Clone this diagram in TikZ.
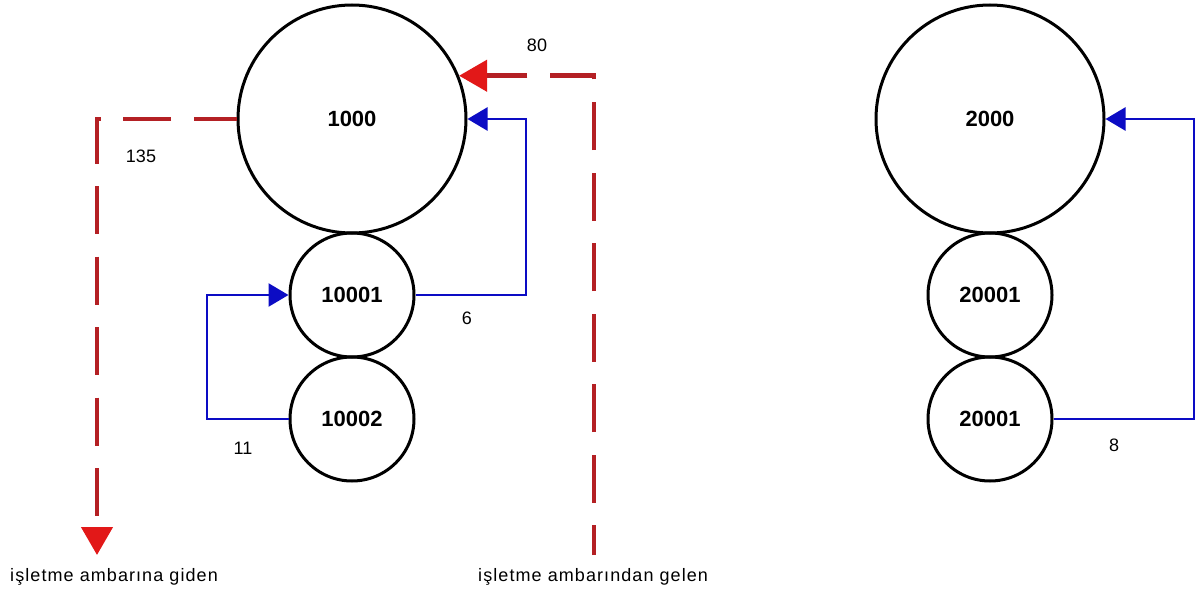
\documentclass[tikz,border=0pt]{standalone}
\usepackage{fontspec}
\setmainfont{Liberation Sans}
\usetikzlibrary{arrows.meta}

\definecolor{flowblue}{RGB}{12,12,196}
\definecolor{dashred}{RGB}{180,32,36}
\definecolor{tipred}{RGB}{226,24,24}

\tikzset{
  bigstore/.style={circle, draw=black, line width=3pt, minimum size=228pt, inner sep=0pt,
                   font=\fontsize{22}{22}\selectfont\bfseries},
  substore/.style={circle, draw=black, line width=3pt, minimum size=124pt, inner sep=0pt,
                   font=\fontsize{22}{22}\selectfont\bfseries},
  transfer/.style={draw=flowblue, line width=2.5pt,
                   -{Triangle[length=20pt, width=23pt, color=flowblue]}},
  outside/.style={draw=dashred, line width=4.5pt, dash pattern=on 48pt off 22.5pt,
                  -{Triangle[length=28pt, width=31pt, color=tipred]}},
  qty/.style={font=\fontsize{18}{18}\selectfont, inner sep=0pt},
  caption/.style={font=\fontsize{18}{18}\selectfont\addfontfeatures{LetterSpace=6}, inner sep=0pt, anchor=base west}
}

\begin{document}
\begin{tikzpicture}[x=1pt, y=-1pt]
  \useasboundingbox[fill=white] (0,0) rectangle (1200,594);

  % main store 1000 with its sub-stores
  \node[bigstore] (m1) at (352,119) {1000};
  \node[substore] (m1a) at (352,295) {10001};
  \node[substore] (m1b) at (352,419) {10002};

  % main store 2000 with its sub-stores
  \node[bigstore] (m2) at (990,119) {2000};
  \node[substore] (m2a) at (990,295) {20001};
  \node[substore] (m2b) at (990,419) {20001};

  % corner and end points of the connectors
  \coordinate (outEnd) at (97,555);
  \coordinate (inStart) at (594,555);
  \coordinate (loopA) at (526,119);
  \coordinate (loopB) at (207,419);
  \coordinate (loopC) at (1194,119);

  % transfers to and from the plant store
  \draw[outside, dash phase=5pt] (m1.west) -| (outEnd);
  \draw[outside, dash phase=18pt] (inStart) |- (m1.22.4);

  % internal transfers
  \draw[transfer] (m1a.east) -| (loopA) -- (m1.east);
  \draw[transfer] (m1b.west) -- (loopB) |- (m1a.west);
  \draw[transfer] (m2b.east) -| (loopC) -- (m2.east);

  % quantities
  \node[qty] (q135) at (141,156) {135};
  \node[qty] (q80) at (537,45) {80};
  \node[qty] (q6) at (467,318) {6};
  \node[qty] (q11) at (243,448) {11};
  \node[qty] (q8) at (1114,445) {8};

  % captions
  \node[caption] (capOut) at (10,581) {işletme ambarına giden};
  \node[caption] (capIn) at (478,581) {işletme ambarından gelen};
\end{tikzpicture}
\end{document}
